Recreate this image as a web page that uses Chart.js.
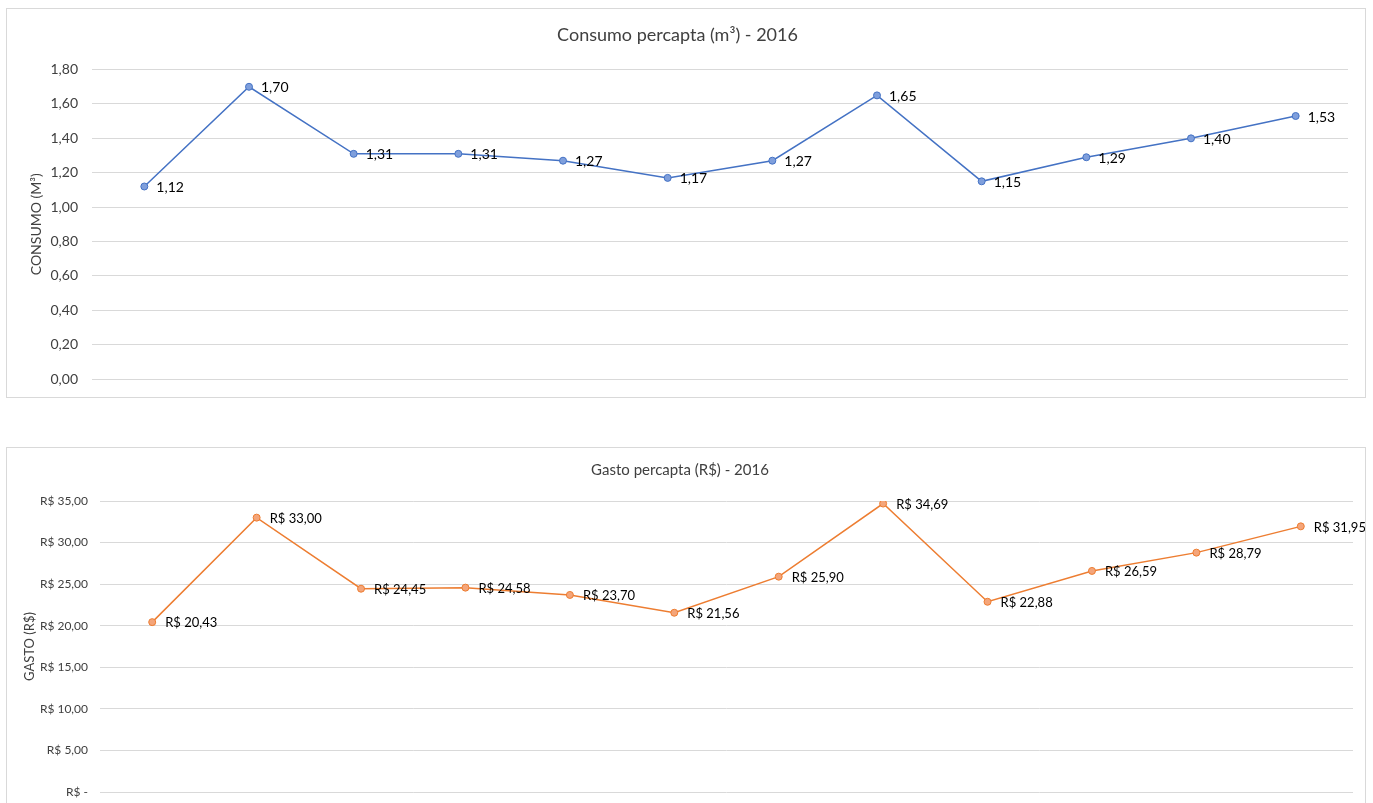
<!DOCTYPE html>
<html>
<head>
<meta charset="utf-8">
<script src="https://cdn.jsdelivr.net/npm/chart.js@4"></script>
<style>
    html, body { margin: 0; padding: 0; background: #fff; overflow: hidden; }
    .box { position: absolute; left: 6px; width: 1358px; border: 1px solid #d9d9d9; background: #fff; }
    #box1 { top: 8px; height: 388px; }
    #box2 { top: 447px; height: 398px; }
</style>
</head>
<body>
<div class="box" id="box1"><canvas id="chart1"></canvas></div>
<div class="box" id="box2"><canvas id="chart2"></canvas></div>
<script>
// dados
const meses = ['Jan', 'Fev', 'Mar', 'Abr', 'Mai', 'Jun', 'Jul', 'Ago', 'Set', 'Out', 'Nov', 'Dez'];
const consumo = [1.12, 1.70, 1.31, 1.31, 1.27, 1.17, 1.27, 1.65, 1.15, 1.29, 1.40, 1.53];
const gasto = [20.43, 33.00, 24.45, 24.58, 23.70, 21.56, 25.90, 34.69, 22.88, 26.59, 28.79, 31.95];
const consumoTicks = { max: 1.8, step: 0.2 };
const gastoTicks = { max: 35, step: 5 };

const fonte = 'Lato, "Liberation Sans", sans-serif';
const virgula = v => v.toFixed(2).replace('.', ',');
const reais = v => Math.abs(v) < 1e-9 ? 'R$ -' : 'R$ ' + virgula(v);

// rótulos de dados à direita de cada ponto
const rotulos = {
    id: 'rotulos',
    afterDatasetsDraw(chart, args, opts) {
        const ctx = chart.ctx;
        const meta = chart.getDatasetMeta(0);
        const valores = chart.data.datasets[0].data;
        ctx.save();
        ctx.font = opts.size + 'px ' + fonte;
        ctx.fillStyle = '#000';
        ctx.textAlign = 'left';
        ctx.textBaseline = 'middle';
        meta.data.forEach((pt, i) => {
            ctx.fillText(opts.format(valores[i]), pt.x + opts.dx, pt.y + 1);
        });
        ctx.restore();
    }
};

function grafico(id, cfg) {
    return new Chart(document.getElementById(id).getContext('2d'), {
        type: 'line',
        data: {
            labels: meses,
            datasets: [{
                data: cfg.data,
                borderColor: cfg.cor,
                borderWidth: 1.5,
                pointRadius: 3.5,
                pointBackgroundColor: cfg.corPonto,
                pointBorderColor: cfg.cor,
                pointBorderWidth: 1,
                tension: 0
            }]
        },
        plugins: [rotulos],
        options: {
            responsive: true,
            maintainAspectRatio: false,
            animation: false,
            layout: { padding: cfg.padding },
            plugins: {
                legend: { display: false },
                tooltip: { enabled: false },
                title: {
                    display: true,
                    text: cfg.titulo,
                    color: '#404040',
                    font: { family: fonte, size: cfg.tamTitulo, weight: 'normal' },
                    padding: cfg.padTitulo
                },
                rotulos: { size: cfg.tamRotulo, dx: cfg.dx, format: cfg.format }
            },
            scales: {
                x: {
                    offset: true,
                    afterFit: s => { s.height = 0; },
                    grid: { display: false },
                    border: { display: false },
                    ticks: { display: false }
                },
                y: {
                    min: 0,
                    max: cfg.ticks.max,
                    afterFit: s => { s.width = cfg.larguraY; s.paddingBottom = 0; },
                    grid: { color: '#d9d9d9', drawTicks: false },
                    border: { display: false },
                    ticks: {
                        stepSize: cfg.ticks.step,
                        padding: cfg.padTick,
                        color: '#404040',
                        font: { family: fonte, size: cfg.tamTick },
                        callback: cfg.format
                    },
                    title: {
                        display: true,
                        text: cfg.tituloY,
                        color: '#404040',
                        padding: { top: cfg.padTituloY, bottom: 0 },
                        font: { family: fonte, size: cfg.tamTituloY }
                    }
                }
            }
        }
    });
}

grafico('chart1', {
    data: consumo,
    cor: '#4472c4',
    corPonto: '#7f9fdc',
    titulo: 'Consumo percapta (m³) - 2016',
    tituloY: 'CONSUMO (M³)',
    ticks: consumoTicks,
    format: virgula,
    padding: { top: 0, left: 0, right: 17, bottom: 18 },
    padTitulo: { top: 15, bottom: 24 },
    tamTitulo: 18,
    tamTick: 14,
    tamTituloY: 14,
    tamRotulo: 14,
    padTick: 14,
    larguraY: 85,
    padTituloY: 21,
    dx: 12
});

grafico('chart2', {
    data: gasto,
    cor: '#ed7d31',
    corPonto: '#f4a57a',
    titulo: 'Gasto percapta (R$) - 2016',
    tituloY: 'GASTO (R$)',
    ticks: gastoTicks,
    format: reais,
    padding: { top: 0, left: 0, right: 12, bottom: 54 },
    padTitulo: { top: 13, bottom: 22 },
    tamTitulo: 15,
    tamTick: 12,
    tamTituloY: 13,
    tamRotulo: 13,
    padTick: 12,
    larguraY: 93,
    padTituloY: 15,
    dx: 13
});
</script>
</body>
</html>
